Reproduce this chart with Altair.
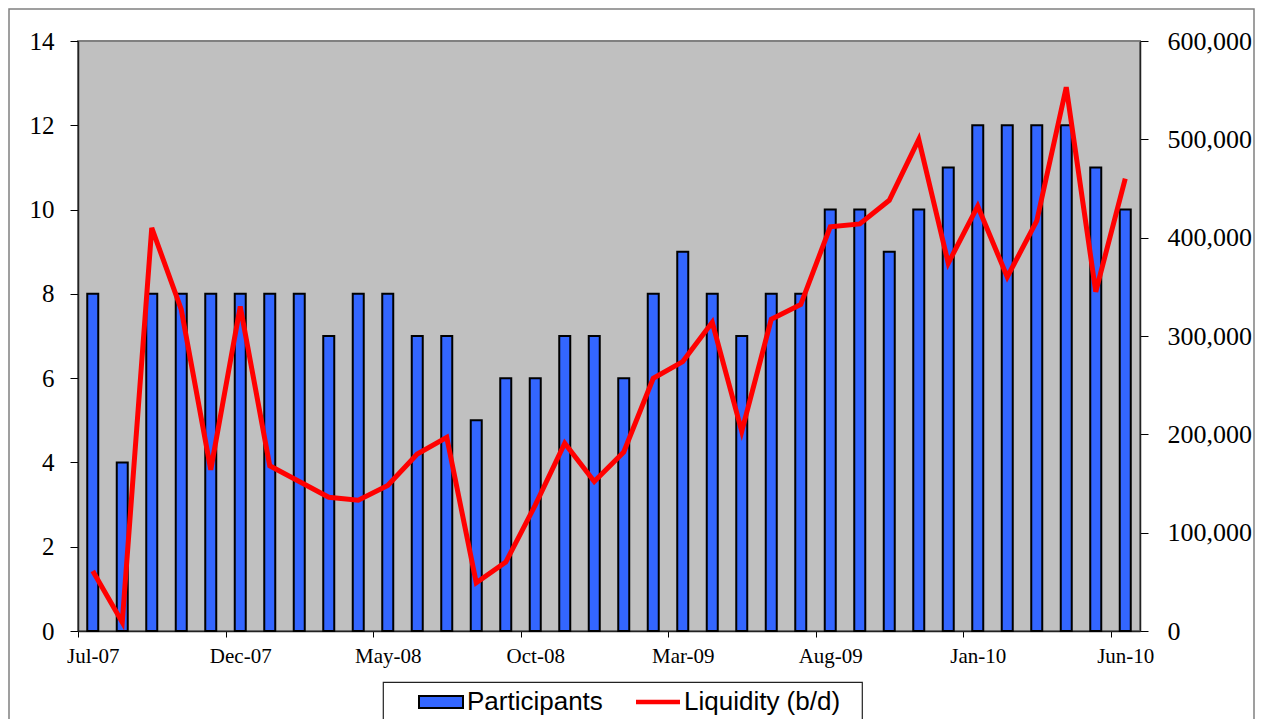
import altair as alt
import pandas as pd

months = ["Jul-07", "Aug-07", "Sep-07", "Oct-07", "Nov-07", "Dec-07",
          "Jan-08", "Feb-08", "Mar-08", "Apr-08", "May-08", "Jun-08",
          "Jul-08", "Aug-08", "Sep-08", "Oct-08", "Nov-08", "Dec-08",
          "Jan-09", "Feb-09", "Mar-09", "Apr-09", "May-09", "Jun-09",
          "Jul-09", "Aug-09", "Sep-09", "Oct-09", "Nov-09", "Dec-09",
          "Jan-10", "Feb-10", "Mar-10", "Apr-10", "May-10", "Jun-10"]
participants = [8, 4, 8, 8, 8, 8,
                8, 8, 7, 8, 8, 7,
                7, 5, 6, 6, 7, 7,
                6, 8, 9, 8, 7, 8,
                8, 10, 10, 9, 10, 11,
                12, 12, 12, 12, 11, 10]
liquidity = [61000, 9000, 410000, 327000, 164000, 330000,
             168000, 152000, 136000, 133000, 148000, 180000,
             197000, 49000, 70000, 128000, 191000, 152000,
             182000, 257000, 274000, 314000, 203000, 317000,
             332000, 411000, 414000, 438000, 500000, 374000,
             432000, 360000, 417000, 553000, 345000, 460000]
x_labels = ["Jul-07", "Dec-07", "May-08", "Oct-08", "Mar-09", "Aug-09", "Jan-10", "Jun-10"]
series_names = ["Participants", "Liquidity (b/d)"]
left_ticks = [0, 2, 4, 6, 8, 10, 12, 14]
right_ticks = [0, 100000, 200000, 300000, 400000, 500000, 600000]

bar_df = pd.DataFrame({"month": months, "participants": participants,
                       "series": [series_names[0]] * len(months)})
line_df = pd.DataFrame({"month": months, "liquidity": liquidity})
frame_df = pd.DataFrame({"k": [0]})

SERIF = "Liberation Serif"
SANS = "Liberation Sans"
HALF_STEP = 1062 / len(months) / 2

x_enc = alt.X("month:N", sort=months,
              scale=alt.Scale(paddingInner=0, paddingOuter=0),
              axis=alt.Axis(values=x_labels, labelAngle=0,
                            tickOffset=-HALF_STEP, labelOffset=HALF_STEP,
                            title=None, labelFont=SERIF, labelFontSize=21,
                            labelColor="black", tickColor="black", tickSize=6,
                            domainColor="#222222", domainWidth=1.5,
                            labelPadding=8, grid=False))

legend = alt.Legend(
    orient="none", legendX=305, legendY=641, direction="horizontal",
    title="\u00a0", titleOrient="right", titlePadding=16, titleFontSize=10,
    strokeColor="#222222", padding=6, symbolOffset=29,
    labelFont=SANS, labelFontSize=26, labelColor="black", labelOffset=3,
    labelLimit=400, columnPadding=3, symbolSize=1936, clipHeight=28,
    symbolType=alt.ExprRef(expr="datum.value === 'Participants' ? 'M-1,-0.27H1V0.27H-1Z' : 'M-1,-0.1H1V0.1H-1Z'"),
    symbolStrokeColor=alt.ExprRef(expr="datum.value === 'Participants' ? 'black' : 'transparent'"),
    symbolStrokeWidth=2,
)

bars = alt.Chart(bar_df).mark_bar(size=11, stroke="black", strokeWidth=2).encode(
    x=x_enc,
    y=alt.Y("participants:Q", scale=alt.Scale(domain=[0, 14], nice=False),
            axis=alt.Axis(values=left_ticks, orient="left", title=None,
                          labelFont=SERIF, labelFontSize=25, labelColor="black",
                          tickColor="black", tickSize=8, labelPadding=16,
                          domainColor="#222222", domainWidth=1.5, grid=False)),
    color=alt.Color("series:N", scale=alt.Scale(domain=series_names,
                                                range=["#3366FF", "#FF0000"]),
                    legend=legend),
)

line = alt.Chart(line_df).mark_line(color="#FF0000", strokeWidth=5).encode(
    x=alt.X("month:N", sort=months),
    y=alt.Y("liquidity:Q", scale=alt.Scale(domain=[0, 600000], nice=False),
            axis=alt.Axis(values=right_ticks, orient="right", title=None,
                          labelExpr="format(datum.value, ',')",
                          labelFont=SERIF, labelFontSize=26,
                          labelColor="black", tickColor="black", tickSize=8,
                          labelPadding=19, domainColor="#222222",
                          domainWidth=1.5, grid=False)),
)

frame = alt.Chart(frame_df).mark_rect(fill=None, stroke="#808080",
                                      strokeWidth=1.5).encode(
    x=alt.value(-69), x2=alt.value(1176), y=alt.value(-32), y2=alt.value(720))

chart = alt.layer(frame, bars, line).resolve_scale(y="independent").properties(
    width=1062, height=590,
    autosize=alt.AutoSizeParams(type="none"),
    padding={"left": 70, "top": 33, "right": 115, "bottom": 88},
).configure_view(fill="#C0C0C0", stroke="#808080", strokeWidth=2
).configure_legend(strokeWidth=1.2)

chart.save("out.html", embed_options={"renderer": "svg", "actions": False})
